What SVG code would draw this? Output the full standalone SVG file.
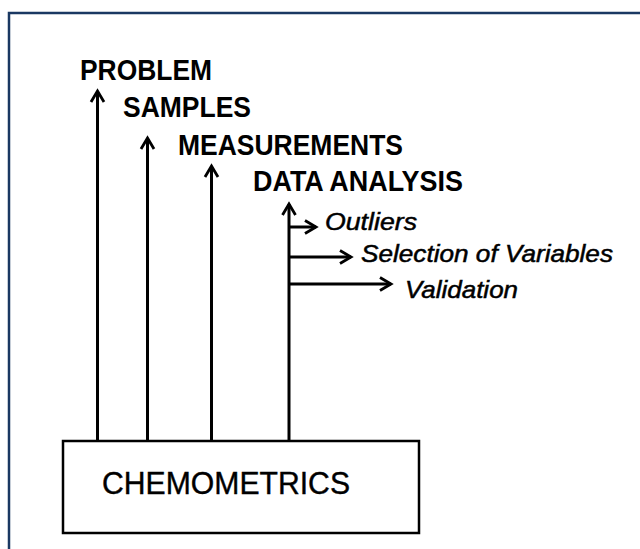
<svg xmlns="http://www.w3.org/2000/svg" width="640" height="549" viewBox="0 0 640 549">
  <defs>
    <marker id="arr" markerUnits="userSpaceOnUse" markerWidth="24" markerHeight="24" viewBox="-12 -12 24 24" refX="0" refY="0" orient="auto">
      <path d="M-11,-6.5 L0,0 L-11,6.5" fill="none" stroke="#000" stroke-width="2.8" stroke-linejoin="miter"/>
    </marker>
  </defs>
  <style>
    .conn { stroke: #000; stroke-width: 3; fill: none; marker-end: url(#arr); }
    .head { font-family: "Liberation Sans", Arial, sans-serif; font-weight: bold; font-size: 29px; fill: #000; }
    .sub { font-family: "Liberation Sans", Arial, sans-serif; font-style: italic; font-size: 24px; fill: #000; stroke: #000; stroke-width: 0.5; }
    .box { fill: #fff; stroke: #000; stroke-width: 2.5; }
    .boxtext { font-family: "Liberation Sans", Arial, sans-serif; font-size: 32px; fill: #000; stroke: #000; stroke-width: 0.4; }
  </style>
  <rect width="640" height="549" fill="#fff"/>
  <path d="M9,549 L9,13 L640,13" fill="none" stroke="#1a3862" stroke-width="2.5"/>

  <g id="connectors">
    <line class="conn" x1="97.5" y1="441" x2="97.5" y2="91"/>
    <line class="conn" x1="147.5" y1="441" x2="147.5" y2="138"/>
    <line class="conn" x1="211.5" y1="441" x2="211.5" y2="166"/>
    <line class="conn" x1="289" y1="441" x2="289" y2="204"/>
    <line class="conn" x1="289" y1="227" x2="316" y2="227"/>
    <line class="conn" x1="289" y1="257" x2="351" y2="257"/>
    <line class="conn" x1="289" y1="284" x2="391" y2="284"/>
  </g>

  <g id="problem"><text class="head" x="80" y="80" textLength="132" lengthAdjust="spacingAndGlyphs">PROBLEM</text></g>
  <g id="samples"><text class="head" x="123" y="117" textLength="128" lengthAdjust="spacingAndGlyphs">SAMPLES</text></g>
  <g id="measurements"><text class="head" x="178" y="155" textLength="225" lengthAdjust="spacingAndGlyphs">MEASUREMENTS</text></g>
  <g id="data-analysis"><text class="head" x="253" y="191" textLength="210" lengthAdjust="spacingAndGlyphs">DATA ANALYSIS</text></g>

  <g id="outliers"><text class="sub" x="325" y="230" textLength="92" lengthAdjust="spacingAndGlyphs">Outliers</text></g>
  <g id="selection"><text class="sub" x="361" y="262" textLength="252" lengthAdjust="spacingAndGlyphs">Selection of Variables</text></g>
  <g id="validation"><text class="sub" x="405" y="298" textLength="113" lengthAdjust="spacingAndGlyphs">Validation</text></g>

  <g id="chemometrics">
    <rect class="box" x="63" y="441" width="356" height="92"/>
    <text class="boxtext" x="102" y="494" textLength="248" lengthAdjust="spacingAndGlyphs">CHEMOMETRICS</text>
  </g>
</svg>
